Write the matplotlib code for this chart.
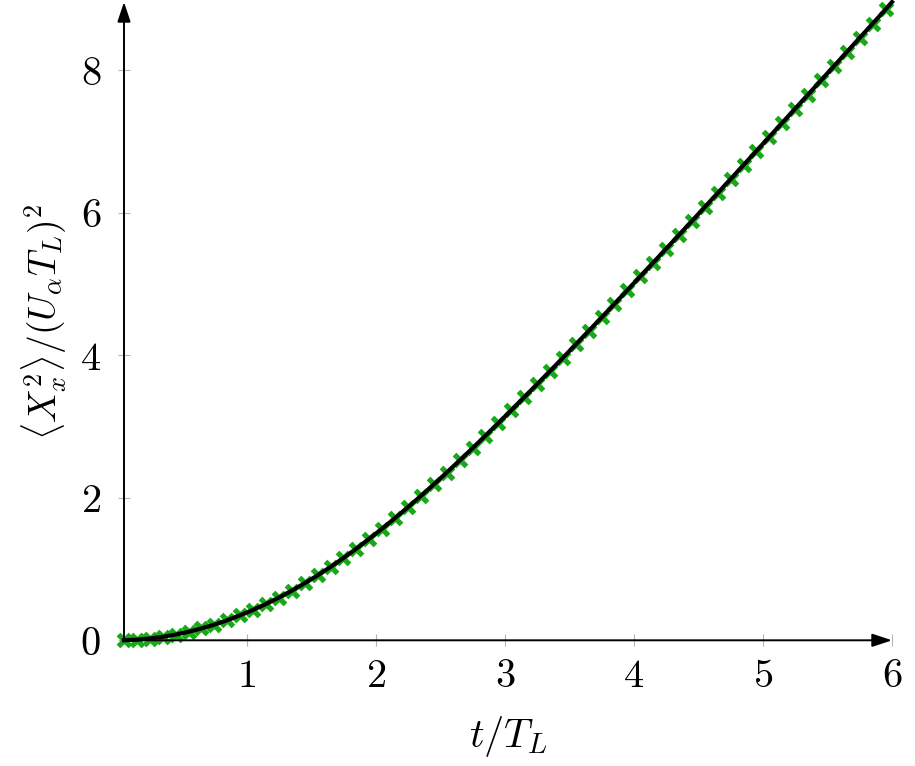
import numpy as np
import matplotlib
matplotlib.use("Agg")
import matplotlib.pyplot as plt

plt.rcParams['mathtext.fontset'] = 'cm'
plt.rcParams['font.family'] = ['DejaVu Serif']

# simulation points (green crosses)
t_sim = [0.05, 0.15, 0.25, 0.35, 0.45, 0.55, 0.65, 0.75, 0.85, 0.95,
         1.05, 1.15, 1.25, 1.35, 1.45, 1.55, 1.65, 1.75, 1.85, 1.95,
         2.05, 2.15, 2.25, 2.35, 2.45, 2.55, 2.65, 2.75, 2.85, 2.95,
         3.05, 3.15, 3.25, 3.35, 3.45, 3.55, 3.65, 3.75, 3.85, 3.95,
         4.05, 4.15, 4.25, 4.35, 4.45, 4.55, 4.65, 4.75, 4.85, 4.95,
         5.05, 5.15, 5.25, 5.35, 5.45, 5.55, 5.65, 5.75, 5.85, 5.95]
x2_sim = [0.001, 0.009, 0.025, 0.049, 0.080, 0.119, 0.166, 0.220, 0.282, 0.351,
          0.427, 0.510, 0.600, 0.697, 0.801, 0.912, 1.030, 1.155, 1.287, 1.426,
          1.568, 1.716, 1.869, 2.027, 2.189, 2.355, 2.524, 2.696, 2.871, 3.048,
          3.228, 3.410, 3.593, 3.778, 3.965, 4.153, 4.342, 4.532, 4.723, 4.915,
          5.108, 5.302, 5.496, 5.691, 5.886, 6.082, 6.278, 6.475, 6.672, 6.869,
          7.067, 7.265, 7.463, 7.661, 7.860, 8.059, 8.258, 8.457, 8.656, 8.855]

# theory curve (black line)
t_th = t_sim + [6.0]
x2_th = x2_sim + [8.96]

xticks = [1, 2, 3, 4, 5, 6]
yticks = [0, 2, 4, 6, 8]

fig = plt.figure(figsize=(9.15, 7.66), dpi=100)
ax = fig.add_axes([124/915, (766-640.3)/766, (892-124)/915, (640.3-2)/766])

ax.plot(t_sim, x2_sim, linestyle='none', marker='x', color='#1aa81a',
        markersize=8.5, markeredgewidth=3.8, clip_on=False, zorder=3)
ax.plot(t_th, x2_th, color='black', lw=3.0, clip_on=False, zorder=4)

ax.set_xlim(min(t_th), max(t_th))
ax.set_ylim(0, max(x2_th))

for s in ax.spines.values():
    s.set_visible(False)

arrow = dict(arrowstyle='-|>,head_length=1.2,head_width=0.4',
             color='black', lw=1.4, shrinkA=0, shrinkB=0)
ax.annotate('', xy=(1, 0), xytext=(0, 0), xycoords='axes fraction', arrowprops=arrow)
ax.annotate('', xy=(0, 1), xytext=(0, 0), xycoords='axes fraction', arrowprops=arrow)

ax.set_xticks(xticks)
ax.set_xticklabels([rf'${v}$' for v in xticks])
ax.set_yticks(yticks)
ax.set_yticklabels([rf'${v}$' for v in yticks])
ax.tick_params(direction='inout', length=9, width=0.8, color='#b4b4b4',
               labelsize=29)
ax.tick_params(axis='x', pad=8)
ax.tick_params(axis='y', pad=12)

ax.set_xlabel(r'$t/T_L$', fontsize=29, labelpad=14)
ax.set_ylabel(r'$\langle X_x^2\rangle/(U_\alpha T_L)^2$', fontsize=27, labelpad=8)

fig.savefig('out.png', dpi=100)
